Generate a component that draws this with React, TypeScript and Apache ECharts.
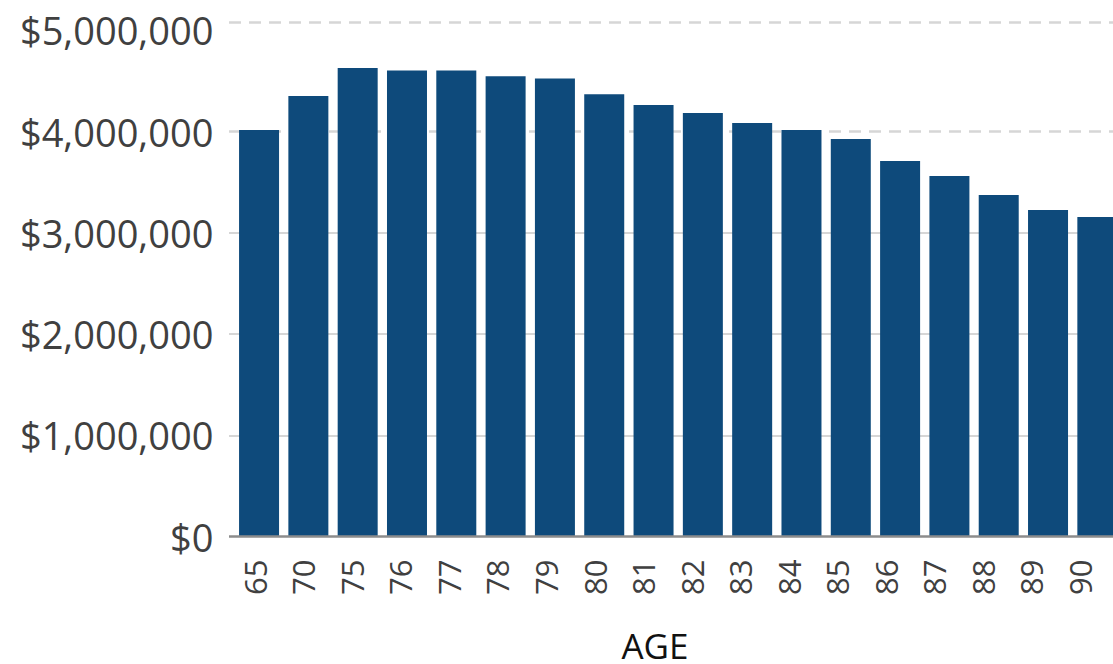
import React, { useEffect, useRef } from "react";
import * as echarts from "echarts";

const ages = ["65", "70", "75", "76", "77", "78", "79", "80", "81", "82", "83", "84", "85", "86", "87", "88", "89", "90"];
const balances = [
  4017000, 4353000, 4629000, 4605000, 4605000, 4546000, 4526000, 4368000, 4264000,
  4185000, 4086000, 4017000, 3928000, 3710000, 3562000, 3374000, 3226000, 3157000,
];
const solidGridValues = [1000000, 2000000, 3000000];
const dashedGridValues = [4000000, 5080000];
const axisMax = 5080000;
const axisInterval = 1000000;
const xTitle = "AGE";

const FONT = "'Open Sans', 'Noto Sans', sans-serif";

export default function App() {
  const ref = useRef<HTMLDivElement>(null);
  useEffect(() => {
    if (!ref.current) return;
    const chart = echarts.init(ref.current, null, { renderer: "svg" });
    const gridLineData = [
      ...solidGridValues.map((v) => ({
        yAxis: v,
        lineStyle: { color: "#d6d6d6", width: 2.2, type: "solid" as const },
      })),
      ...dashedGridValues.map((v) => ({
        yAxis: v,
        lineStyle: { color: "#d6d6d6", width: 2.5, type: [12, 8] as any },
      })),
    ];
    chart.setOption({
      animation: false,
      backgroundColor: "#ffffff",
      grid: [
        { left: 234.4, right: 0, top: 22.3, bottom: 127.5 },
        { left: 229, right: 0, top: 22.3, bottom: 127.5 },
        { left: 230.4, right: 17.7, top: 22.3, bottom: 127.5 },
      ],
      xAxis: [
        {
          type: "category",
          data: ages,
          gridIndex: 0,
          axisLine: { show: false },
          axisTick: { show: false },
          axisLabel: { show: false },
        },
        { type: "value", gridIndex: 1, min: 0, max: 1, show: false },
        {
          type: "category",
          data: ages,
          gridIndex: 2,
          axisLine: { show: false },
          axisTick: { show: false },
          axisLabel: {
            rotate: 90,
            margin: 23,
            fontSize: 31,
            fontFamily: FONT,
            color: "#404040",
          },
        },
      ],
      yAxis: [
        {
          type: "value",
          gridIndex: 0,
          min: 0,
          max: axisMax,
          interval: axisInterval,
          splitLine: { show: false },
          axisLine: { show: false },
          axisTick: { show: false },
          axisLabel: {
            showMaxLabel: false,
            margin: 21,
            fontSize: 38,
            fontFamily: FONT,
            color: "#404040",
            formatter: (v: number) => "$" + v.toLocaleString("en-US"),
          },
        },
        { type: "value", gridIndex: 1, min: 0, max: axisMax, show: false },
        { type: "value", gridIndex: 2, min: 0, max: axisMax, show: false },
      ],
      graphic: [
        {
          type: "text",
          x: 655,
          y: 645,
          style: {
            text: xTitle,
            fontSize: 35,
            lineHeight: 36,
            fontFamily: FONT,
            fill: "#111111",
            textAlign: "center",
            textVerticalAlign: "middle",
          },
        },
      ],
      series: [
        {
          type: "line",
          xAxisIndex: 1,
          yAxisIndex: 1,
          data: [],
          silent: true,
          markLine: {
            silent: true,
            z: 1,
            symbol: "none",
            label: { show: false },
            data: gridLineData,
          },
        },
        {
          type: "bar",
          xAxisIndex: 0,
          yAxisIndex: 0,
          data: balances,
          barWidth: 40,
          z: 3,
          itemStyle: { color: "#0e4a7b" },
        },
        {
          type: "line",
          xAxisIndex: 1,
          yAxisIndex: 1,
          data: [],
          silent: true,
          markLine: {
            silent: true,
            z: 6,
            symbol: "none",
            label: { show: false },
            data: [{ yAxis: 0, lineStyle: { color: "#8c8c8c", width: 2.5, type: "solid" } }],
          },
        },
      ],
    });
    return () => chart.dispose();
  }, []);
  return (
    <div style={{ position: "fixed", left: 0, top: 0, width: 1113, height: 664, overflow: "hidden" }}>
      <div ref={ref} style={{ width: 1122, height: 664 }} />
    </div>
  );
}
